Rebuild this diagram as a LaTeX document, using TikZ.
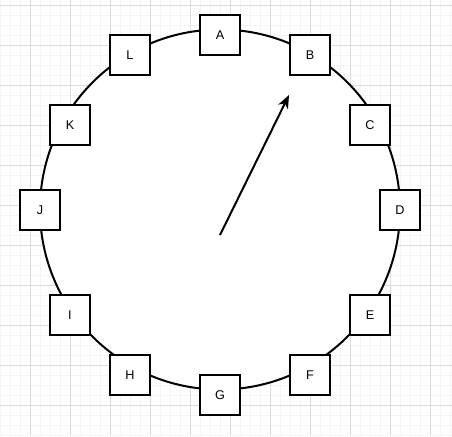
\documentclass[tikz,border=0pt]{standalone}
\usepackage{fontspec}
\setmainfont{Liberation Sans}
\usetikzlibrary{arrows.meta}
\definecolor{gridminor}{HTML}{F4F4F4}
\definecolor{gridmajor}{HTML}{DCDCDC}
\tikzset{
  slot/.style={draw=black, line width=1.6pt, fill=white, minimum width=30pt, minimum height=30pt, inner sep=0pt, font=\fontsize{9.5pt}{11pt}\selectfont},
  ring/.style={draw=black, line width=1.5pt, fill=white},
  pointer/.style={draw=black, line width=1.5pt, -{Stealth[length=10pt,width=8pt,inset=3pt]}},
}
\begin{document}
\begin{tikzpicture}[x=0.75pt,y=-0.75pt]
\useasboundingbox (0,0) rectangle (452,436);
\fill[white] (0,0) rectangle (452,436);
% minor grid
\foreach \x in {0,10,...,450} \draw[gridminor, line width=0.75pt] (\x,0) -- (\x,436);
\foreach \y in {5,15,...,435} \draw[gridminor, line width=0.75pt] (0,\y) -- (452,\y);
% major grid
\foreach \x in {30,70,...,450} \draw[gridmajor, line width=0.75pt] (\x,0) -- (\x,436);
\foreach \y in {5,45,...,435} \draw[gridmajor, line width=0.75pt] (0,\y) -- (452,\y);
% ring
\node[ring, circle, minimum size=270pt, inner sep=0pt] (ring) at (220,209.5) {};
% arrow
\coordinate (o) at (220,235);
\coordinate (tip) at (289,95);
\draw[pointer] (o) -- (tip);
% slots
\node[slot] (A) at (220,35) {A};
\node[slot] (B) at (310,55) {B};
\node[slot] (C) at (370,125) {C};
\node[slot] (D) at (400,210) {D};
\node[slot] (E) at (370,315) {E};
\node[slot] (F) at (310,375) {F};
\node[slot] (G) at (220,395) {G};
\node[slot] (H) at (130,375) {H};
\node[slot] (I) at (70,315) {I};
\node[slot] (J) at (40,210) {J};
\node[slot] (K) at (70,125) {K};
\node[slot] (L) at (130,55) {L};
\end{tikzpicture}
\end{document}
